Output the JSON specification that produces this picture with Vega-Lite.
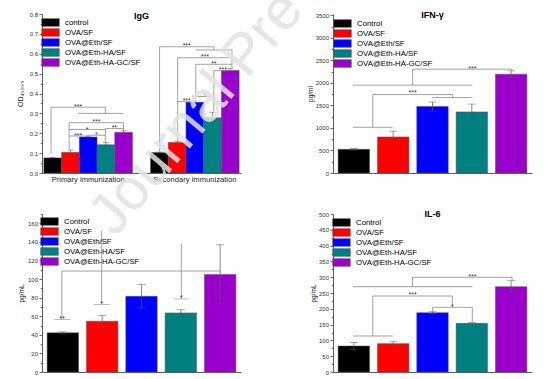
{
  "$schema": "https://vega.github.io/schema/vega-lite/v6.json",
  "autosize": {"type": "none"},
  "padding": {"left": 42, "top": 14, "right": 512, "bottom": 365},
  "background": "white",
  "datasets": {
    "igg": [
      {"group": "Primary immunization", "series": "control", "value": 0.076, "lo": 0.073, "hi": 0.079},
      {"group": "Primary immunization", "series": "OVA/SF", "value": 0.104, "lo": 0.092, "hi": 0.116},
      {"group": "Primary immunization", "series": "OVA@Eth/SF", "value": 0.181, "lo": 0.177, "hi": 0.185},
      {"group": "Primary immunization", "series": "OVA@Eth-HA/SF", "value": 0.142, "lo": 0.13, "hi": 0.154},
      {"group": "Primary immunization", "series": "OVA@Eth-HA-GC/SF", "value": 0.205, "lo": 0.195, "hi": 0.215},
      {"group": "Secondary immunization", "series": "control", "value": 0.103, "lo": 0.1, "hi": 0.106},
      {"group": "Secondary immunization", "series": "OVA/SF", "value": 0.154, "lo": 0.15, "hi": 0.158},
      {"group": "Secondary immunization", "series": "OVA@Eth/SF", "value": 0.356, "lo": 0.325, "hi": 0.387},
      {"group": "Secondary immunization", "series": "OVA@Eth-HA/SF", "value": 0.278, "lo": 0.25, "hi": 0.306},
      {"group": "Secondary immunization", "series": "OVA@Eth-HA-GC/SF", "value": 0.516, "lo": 0.505, "hi": 0.527}
    ],
    "iggSeg": [
      {"k": "P:C", "k2": "P:C", "y1": 0.095, "y2": 0.331},
      {"k": "P:C", "k2": "P:H", "y1": 0.331, "y2": 0.331},
      {"k": "P:H", "k2": "P:H", "y1": 0.331, "y2": 0.3},
      {"k": "P:O-E", "k2": "P:G", "y1": 0.3, "y2": 0.3},
      {"k": "P:O", "k2": "P:G", "y1": 0.253, "y2": 0.253},
      {"k": "P:O", "k2": "P:O", "y1": 0.253, "y2": 0.12},
      {"k": "P:G", "k2": "P:G", "y1": 0.253, "y2": 0.218},
      {"k": "P:O", "k2": "P:H", "y1": 0.219, "y2": 0.219},
      {"k": "P:O", "k2": "P:E", "y1": 0.186, "y2": 0.186},
      {"k": "P:E", "k2": "P:H", "y1": 0.19, "y2": 0.19},
      {"k": "P:H", "k2": "P:G", "y1": 0.224, "y2": 0.224},
      {"k": "P:H", "k2": "P:H", "y1": 0.224, "y2": 0.155},
      {"k": "S:C", "k2": "S:C", "y1": 0.11, "y2": 0.635},
      {"k": "S:C", "k2": "S:H", "y1": 0.635, "y2": 0.635},
      {"k": "S:H", "k2": "S:H", "y1": 0.635, "y2": 0.619},
      {"k": "S:E", "k2": "S:G", "y1": 0.619, "y2": 0.619},
      {"k": "S:O", "k2": "S:G", "y1": 0.58, "y2": 0.58},
      {"k": "S:O", "k2": "S:O", "y1": 0.58, "y2": 0.16},
      {"k": "S:G", "k2": "S:G", "y1": 0.619, "y2": 0.53},
      {"k": "S:E", "k2": "S:G", "y1": 0.547, "y2": 0.547},
      {"k": "S:E", "k2": "S:E", "y1": 0.547, "y2": 0.39},
      {"k": "S:H", "k2": "S:G", "y1": 0.515, "y2": 0.515},
      {"k": "S:H", "k2": "S:H", "y1": 0.515, "y2": 0.31},
      {"k": "S:O", "k2": "S:E", "y1": 0.36, "y2": 0.36},
      {"k": "S:E", "k2": "S:H", "y1": 0.385, "y2": 0.385}
    ],
    "iggTxt": [
      {"k": "P:O-E", "y": 0.342, "t": "***"},
      {"k": "P:E-H", "y": 0.266, "t": "***"},
      {"k": "P:E", "y": 0.228, "t": "*"},
      {"k": "P:O-E", "y": 0.196, "t": "***"},
      {"k": "P:E-H", "y": 0.2, "t": "*"},
      {"k": "P:H-G", "y": 0.234, "t": "**"},
      {"k": "S:O-E", "y": 0.647, "t": "***"},
      {"k": "S:E-H", "y": 0.594, "t": "***"},
      {"k": "S:H", "y": 0.56, "t": "**"},
      {"k": "S:H-G", "y": 0.53, "t": "***"},
      {"k": "S:O-E", "y": 0.37, "t": "***"},
      {"k": "S:E-H", "y": 0.398, "t": "*"}
    ],
    "ifn": [
      {"series": "Control", "value": 526, "lo": 511, "hi": 541},
      {"series": "OVA/SF", "value": 801, "lo": 671, "hi": 931},
      {"series": "OVA@Eth/SF", "value": 1476, "lo": 1376, "hi": 1576},
      {"series": "OVA@Eth-HA/SF", "value": 1357, "lo": 1180, "hi": 1530},
      {"series": "OVA@Eth-HA-GC/SF", "value": 2195, "lo": 2122, "hi": 2268}
    ],
    "ifnSeg": [
      {"k": "C", "k2": "O", "y1": 1015, "y2": 1015},
      {"k": "C-O", "k2": "C-O", "y1": 1015, "y2": 1742},
      {"k": "C-O", "k2": "E-H", "y1": 1742, "y2": 1742},
      {"k": "E-H", "k2": "E-H", "y1": 1742, "y2": 1675},
      {"k": "E", "k2": "H", "y1": 1675, "y2": 1675},
      {"k": "C", "k2": "H", "y1": 1950, "y2": 1950},
      {"k": "O-E", "k2": "O-E", "y1": 1950, "y2": 2305},
      {"k": "O-E", "k2": "G", "y1": 2305, "y2": 2305},
      {"k": "G", "k2": "G", "y1": 2305, "y2": 2265}
    ],
    "ifnTxt": [
      {"k": "O-E", "y": 1823, "t": "***"},
      {"k": "H", "y": 2357, "t": "***"}
    ],
    "il2": [
      {"series": "Control", "value": 42.1, "lo": 41, "hi": 43.2},
      {"series": "OVA/SF", "value": 54.6, "lo": 48.5, "hi": 60.7},
      {"series": "OVA@Eth/SF", "value": 81.4, "lo": 69, "hi": 94},
      {"series": "OVA@Eth-HA/SF", "value": 63.6, "lo": 60, "hi": 67},
      {"series": "OVA@Eth-HA-GC/SF", "value": 105, "lo": 73.6, "hi": 136.8}
    ],
    "il2Seg": [
      {"k": "C", "k2": "G", "y1": 108.6, "y2": 108.6},
      {"k": "C", "k2": "C", "y1": 108.6, "y2": 56.4},
      {"k": "O", "k2": "O", "y1": 152, "y2": 72.5},
      {"k": "H", "k2": "H", "y1": 138, "y2": 78.6}
    ],
    "il2Tick": [
      {"k": "C", "y": 56.4},
      {"k": "O", "y": 72.5},
      {"k": "H", "y": 78.6}
    ],
    "il2Txt": [
      {"k": "C", "y": 59, "t": "**"},
      {"k": "O", "y": 75.5, "t": "*"},
      {"k": "H", "y": 81.5, "t": "*"}
    ],
    "watermark": [
      {"k": "O", "y": 156, "t": "Journal Pre-proof"}
    ],
    "il6": [
      {"series": "Control", "value": 82.3, "lo": 70.8, "hi": 93.8},
      {"series": "OVA/SF", "value": 89.7, "lo": 83.7, "hi": 95.7},
      {"series": "OVA@Eth/SF", "value": 187.8, "lo": 184.8, "hi": 190.8},
      {"series": "OVA@Eth-HA/SF", "value": 154, "lo": 152, "hi": 156},
      {"series": "OVA@Eth-HA-GC/SF", "value": 270, "lo": 251, "hi": 289}
    ],
    "il6Seg": [
      {"k": "C", "k2": "O", "y1": 114, "y2": 114},
      {"k": "C-O", "k2": "C-O", "y1": 114, "y2": 240.5},
      {"k": "C-O", "k2": "E-H", "y1": 240.5, "y2": 240.5},
      {"k": "E-H", "k2": "E-H", "y1": 240.5, "y2": 204.6},
      {"k": "E", "k2": "H", "y1": 204.6, "y2": 204.6},
      {"k": "E", "k2": "E", "y1": 204.6, "y2": 192},
      {"k": "H", "k2": "H", "y1": 204.6, "y2": 158},
      {"k": "C", "k2": "H", "y1": 270, "y2": 270},
      {"k": "O-E", "k2": "O-E", "y1": 270, "y2": 299.6},
      {"k": "O-E", "k2": "G", "y1": 299.6, "y2": 299.6},
      {"k": "G", "k2": "G", "y1": 299.6, "y2": 291}
    ],
    "il6Txt": [
      {"k": "O-E", "y": 250, "t": "***"},
      {"k": "E-H", "y": 212, "t": "*"},
      {"k": "H", "y": 306, "t": "***"}
    ]
  },
  "columns": 2,
  "spacing": {"row": 41, "column": 92},
  "bounds": "flush",
  "resolve": {
    "scale": {"color": "independent", "x": "independent", "y": "independent"},
    "legend": {"color": "independent"}
  },
  "concat": [
    {
      "width": 199, "height": 159,
      "title": "IgG",
      "resolve": {"scale": {"x": "independent"}, "axis": {"y": "independent"}},
      "layer": [
        {
          "data": {"name": "igg"},
          "layer": [
            {
              "mark": {"type": "bar", "stroke": "#555", "strokeWidth": 0.5},
              "encoding": {
                "x": {"field": "group", "type": "nominal", "sort": null, "title": null,
                  "scale": {"domain": ["Primary immunization", "Secondary immunization"], "paddingInner": 0.169, "paddingOuter": 0.0175},
                  "axis": {"ticks": false, "labelAngle": 0, "labelFontSize": 7.6, "labelColor": "#222", "labelPadding": 2}},
                "xOffset": {"field": "series", "type": "nominal", "sort": null,
                  "scale": {"domain": ["control", "OVA/SF", "OVA@Eth/SF", "OVA@Eth-HA/SF", "OVA@Eth-HA-GC/SF"], "paddingInner": 0, "paddingOuter": 0}},
                "y": {"field": "value", "type": "quantitative", "title": "OD₄₅₀ₙₘ",
                  "scale": {"domain": [0, 0.8], "nice": false},
                  "axis": {"values": [0, 0.1, 0.2, 0.3, 0.4, 0.5, 0.6, 0.7, 0.8], "tickCount": 100, "format": ".1f", "orient": "left",
                    "titlePadding": 6, "titleFontSize": 7, "labelOverlap": false}},
                "color": {"field": "series", "type": "nominal", "sort": null,
                  "scale": {"domain": ["control", "OVA/SF", "OVA@Eth/SF", "OVA@Eth-HA/SF", "OVA@Eth-HA-GC/SF"], "range": ["#000000", "#ff0000", "#0000ff", "#008080", "#9900cc"]},
                  "legend": {"offset": 4}}
              }
            },
            {
              "mark": {"type": "rule", "color": "#555", "strokeWidth": 0.7},
              "encoding": {
                "x": {"field": "group", "type": "nominal", "sort": null},
                "xOffset": {"field": "series", "type": "nominal", "sort": null},
                "y": {"field": "lo", "type": "quantitative", "title": "OD₄₅₀ₙₘ"},
                "y2": {"field": "hi"}
              }
            },
            {
              "mark": {"type": "tick", "color": "#555", "size": 6, "thickness": 0.7},
              "encoding": {
                "x": {"field": "group", "type": "nominal", "sort": null},
                "xOffset": {"field": "series", "type": "nominal", "sort": null},
                "y": {"field": "hi", "type": "quantitative", "title": "OD₄₅₀ₙₘ"}
              }
            }
          ]
        },
        {
          "layer": [
            {
              "data": {"name": "iggSeg"},
              "mark": {"type": "rule", "color": "#7a7a7a", "strokeWidth": 0.7},
              "encoding": {
                "x": {"field": "k", "type": "nominal", "axis": null,
                  "scale": {"type": "point", "padding": 1.22, "domain": ["P:C", "P:C-O", "P:O", "P:O-E", "P:E", "P:E-H", "P:H", "P:H-G", "P:G", "g1", "g2", "g3", "S:C", "S:C-O", "S:O", "S:O-E", "S:E", "S:E-H", "S:H", "S:H-G", "S:G"]}},
                "x2": {"field": "k2"},
                "y": {"field": "y1", "type": "quantitative", "title": null,
                  "axis": {"orient": "left", "values": [0.05, 0.15, 0.25, 0.35, 0.45, 0.55, 0.65, 0.75], "tickCount": 100, "labels": false, "domain": false, "tickSize": 1.8}},
                "y2": {"field": "y2"}
              }
            },
            {
              "data": {"name": "iggTxt"},
              "mark": {"type": "text", "fontSize": 7, "color": "#333", "baseline": "alphabetic", "dy": 4},
              "encoding": {
                "x": {"field": "k", "type": "nominal"},
                "y": {"field": "y", "type": "quantitative", "title": null},
                "text": {"field": "t"}
              }
            }
          ]
        }
      ]
    },
    {
      "width": 199, "height": 159,
      "title": {"text": "IFN-γ", "offset": -8},
      "resolve": {"scale": {"x": "independent"}, "axis": {"y": "independent"}},
      "layer": [
        {
          "data": {"name": "ifn"},
          "layer": [
            {
              "mark": {"type": "bar", "stroke": "#555", "strokeWidth": 0.5},
              "encoding": {
                "x": {"field": "series", "type": "nominal", "sort": null, "title": null,
                  "scale": {"domain": ["Control", "OVA/SF", "OVA@Eth/SF", "OVA@Eth-HA/SF", "OVA@Eth-HA-GC/SF"], "paddingInner": 0.2, "paddingOuter": 0.13},
                  "axis": {"labels": false, "ticks": false}},
                "y": {"field": "value", "type": "quantitative", "title": "pg/ml",
                  "scale": {"domain": [0, 3530], "nice": false},
                  "axis": {"values": [0, 500, 1000, 1500, 2000, 2500, 3000, 3500], "tickCount": 100, "format": "d", "orient": "left",
                    "titlePadding": 2, "labelOverlap": false}},
                "color": {"field": "series", "type": "nominal", "sort": null,
                  "scale": {"domain": ["Control", "OVA/SF", "OVA@Eth/SF", "OVA@Eth-HA/SF", "OVA@Eth-HA-GC/SF"], "range": ["#000000", "#ff0000", "#0000ff", "#008080", "#9900cc"]},
                  "legend": {"offset": 5}}
              }
            },
            {
              "mark": {"type": "rule", "color": "#555", "strokeWidth": 0.7},
              "encoding": {
                "x": {"field": "series", "type": "nominal", "sort": null},
                "y": {"field": "lo", "type": "quantitative", "title": "pg/ml"},
                "y2": {"field": "hi"}
              }
            },
            {
              "mark": {"type": "tick", "color": "#555", "size": 8, "thickness": 0.7},
              "encoding": {
                "x": {"field": "series", "type": "nominal", "sort": null},
                "y": {"field": "hi", "type": "quantitative", "title": "pg/ml"}
              }
            },
            {
              "mark": {"type": "tick", "color": "#555", "size": 8, "thickness": 0.7},
              "encoding": {
                "x": {"field": "series", "type": "nominal", "sort": null},
                "y": {"field": "lo", "type": "quantitative", "title": "pg/ml"}
              }
            }
          ]
        },
        {
          "layer": [
            {
              "data": {"name": "ifnSeg"},
              "mark": {"type": "rule", "color": "#7a7a7a", "strokeWidth": 0.7},
              "encoding": {
                "x": {"field": "k", "type": "nominal", "axis": null,
                  "scale": {"type": "point", "padding": 1.06, "domain": ["C", "C-O", "O", "O-E", "E", "E-H", "H", "H-G", "G"]}},
                "x2": {"field": "k2"},
                "y": {"field": "y1", "type": "quantitative", "title": null,
                  "axis": {"orient": "left", "values": [250, 750, 1250, 1750, 2250, 2750, 3250], "tickCount": 100, "labels": false, "domain": false, "tickSize": 1.8}},
                "y2": {"field": "y2"}
              }
            },
            {
              "data": {"name": "ifnTxt"},
              "mark": {"type": "text", "fontSize": 7, "color": "#333", "baseline": "alphabetic", "dy": 4},
              "encoding": {
                "x": {"field": "k", "type": "nominal"},
                "y": {"field": "y", "type": "quantitative", "title": null},
                "text": {"field": "t"}
              }
            }
          ]
        }
      ]
    },
    {
      "width": 199, "height": 158,
      "title": {"text": "IL-2", "offset": -9},
      "resolve": {"scale": {"x": "independent"}, "axis": {"y": "independent"}},
      "layer": [
        {
          "data": {"name": "il2"},
          "layer": [
            {
              "mark": {"type": "bar", "stroke": "#555", "strokeWidth": 0.5},
              "encoding": {
                "x": {"field": "series", "type": "nominal", "sort": null, "title": null,
                  "scale": {"domain": ["Control", "OVA/SF", "OVA@Eth/SF", "OVA@Eth-HA/SF", "OVA@Eth-HA-GC/SF"], "paddingInner": 0.2, "paddingOuter": 0.13},
                  "axis": {"labels": false, "ticks": false}},
                "y": {"field": "value", "type": "quantitative", "title": "pg/mL",
                  "scale": {"domain": [0, 170], "nice": false},
                  "axis": {"values": [0, 20, 40, 60, 80, 100, 120, 140, 160], "tickCount": 100, "format": "d", "orient": "left",
                    "titlePadding": 3, "labelOverlap": false}},
                "color": {"field": "series", "type": "nominal", "sort": null,
                  "scale": {"domain": ["Control", "OVA/SF", "OVA@Eth/SF", "OVA@Eth-HA/SF", "OVA@Eth-HA-GC/SF"], "range": ["#000000", "#ff0000", "#0000ff", "#008080", "#9900cc"]},
                  "legend": {"offset": 3}}
              }
            },
            {
              "mark": {"type": "rule", "color": "#555", "strokeWidth": 0.7},
              "encoding": {
                "x": {"field": "series", "type": "nominal", "sort": null},
                "y": {"field": "lo", "type": "quantitative", "title": "pg/mL"},
                "y2": {"field": "hi"}
              }
            },
            {
              "mark": {"type": "tick", "color": "#555", "size": 8, "thickness": 0.7},
              "encoding": {
                "x": {"field": "series", "type": "nominal", "sort": null},
                "y": {"field": "hi", "type": "quantitative", "title": "pg/mL"}
              }
            },
            {
              "mark": {"type": "tick", "color": "#555", "size": 8, "thickness": 0.7},
              "encoding": {
                "x": {"field": "series", "type": "nominal", "sort": null},
                "y": {"field": "lo", "type": "quantitative", "title": "pg/mL"}
              }
            }
          ]
        },
        {
          "layer": [
            {
              "data": {"name": "il2Seg"},
              "mark": {"type": "rule", "color": "#7a7a7a", "strokeWidth": 0.7},
              "encoding": {
                "x": {"field": "k", "type": "nominal", "axis": null,
                  "scale": {"type": "point", "padding": 1.06, "domain": ["C", "C-O", "O", "O-E", "E", "E-H", "H", "H-G", "G"]}},
                "x2": {"field": "k2"},
                "y": {"field": "y1", "type": "quantitative", "title": null,
                  "axis": {"orient": "left", "values": [10, 30, 50, 70, 90, 110, 130, 150, 170], "tickCount": 100, "labels": false, "domain": false, "tickSize": 1.8}},
                "y2": {"field": "y2"}
              }
            },
            {
              "data": {"name": "il2Tick"},
              "mark": {"type": "tick", "color": "#7a7a7a", "size": 16, "thickness": 0.7},
              "encoding": {
                "x": {"field": "k", "type": "nominal"},
                "y": {"field": "y", "type": "quantitative", "title": null}
              }
            },
            {
              "data": {"name": "il2Txt"},
              "mark": {"type": "text", "fontSize": 7, "color": "#333", "baseline": "alphabetic", "dy": 4},
              "encoding": {
                "x": {"field": "k", "type": "nominal"},
                "y": {"field": "y", "type": "quantitative", "title": null},
                "text": {"field": "t"}
              }
            },
            {
              "data": {"name": "watermark"},
              "mark": {"type": "text", "fontSize": 58, "color": "#e2e2e2", "opacity": 0.85, "angle": -50, "align": "left", "baseline": "middle"},
              "encoding": {
                "x": {"field": "k", "type": "nominal"},
                "y": {"field": "y", "type": "quantitative", "title": null},
                "text": {"field": "t"}
              }
            }
          ]
        }
      ]
    },
    {
      "width": 199, "height": 158,
      "title": {"text": "IL-6", "offset": -8},
      "resolve": {"scale": {"x": "independent"}, "axis": {"y": "independent"}},
      "layer": [
        {
          "data": {"name": "il6"},
          "layer": [
            {
              "mark": {"type": "bar", "stroke": "#555", "strokeWidth": 0.5},
              "encoding": {
                "x": {"field": "series", "type": "nominal", "sort": null, "title": null,
                  "scale": {"domain": ["Control", "OVA/SF", "OVA@Eth/SF", "OVA@Eth-HA/SF", "OVA@Eth-HA-GC/SF"], "paddingInner": 0.2, "paddingOuter": 0.13},
                  "axis": {"labels": false, "ticks": false}},
                "y": {"field": "value", "type": "quantitative", "title": "pg/mL",
                  "scale": {"domain": [0, 500], "nice": false},
                  "axis": {"values": [0, 50, 100, 150, 200, 250, 300, 350, 400, 450, 500], "tickCount": 100, "format": "d", "orient": "left",
                    "titlePadding": 2, "labelOverlap": false}},
                "color": {"field": "series", "type": "nominal", "sort": null,
                  "scale": {"domain": ["Control", "OVA/SF", "OVA@Eth/SF", "OVA@Eth-HA/SF", "OVA@Eth-HA-GC/SF"], "range": ["#000000", "#ff0000", "#0000ff", "#008080", "#9900cc"]},
                  "legend": {"offset": 4}}
              }
            },
            {
              "mark": {"type": "rule", "color": "#555", "strokeWidth": 0.7},
              "encoding": {
                "x": {"field": "series", "type": "nominal", "sort": null},
                "y": {"field": "lo", "type": "quantitative", "title": "pg/mL"},
                "y2": {"field": "hi"}
              }
            },
            {
              "mark": {"type": "tick", "color": "#555", "size": 8, "thickness": 0.7},
              "encoding": {
                "x": {"field": "series", "type": "nominal", "sort": null},
                "y": {"field": "hi", "type": "quantitative", "title": "pg/mL"}
              }
            },
            {
              "mark": {"type": "tick", "color": "#555", "size": 8, "thickness": 0.7},
              "encoding": {
                "x": {"field": "series", "type": "nominal", "sort": null},
                "y": {"field": "lo", "type": "quantitative", "title": "pg/mL"}
              }
            }
          ]
        },
        {
          "layer": [
            {
              "data": {"name": "il6Seg"},
              "mark": {"type": "rule", "color": "#7a7a7a", "strokeWidth": 0.7},
              "encoding": {
                "x": {"field": "k", "type": "nominal", "axis": null,
                  "scale": {"type": "point", "padding": 1.06, "domain": ["C", "C-O", "O", "O-E", "E", "E-H", "H", "H-G", "G"]}},
                "x2": {"field": "k2"},
                "y": {"field": "y1", "type": "quantitative", "title": null,
                  "axis": {"orient": "left", "values": [25, 75, 125, 175, 225, 275, 325, 375, 425, 475], "tickCount": 100, "labels": false, "domain": false, "tickSize": 1.8}},
                "y2": {"field": "y2"}
              }
            },
            {
              "data": {"name": "il6Txt"},
              "mark": {"type": "text", "fontSize": 7, "color": "#333", "baseline": "alphabetic", "dy": 4},
              "encoding": {
                "x": {"field": "k", "type": "nominal"},
                "y": {"field": "y", "type": "quantitative", "title": null},
                "text": {"field": "t"}
              }
            }
          ]
        }
      ]
    }
  ],
  "config": {
    "font": "Liberation Sans",
    "view": {"stroke": null},
    "axis": {
      "grid": false,
      "labelOverlap": false,
      "domainColor": "#333", "domainWidth": 0.8,
      "tickColor": "#333", "tickWidth": 0.7, "tickSize": 3,
      "labelColor": "#333", "labelFontSize": 6, "labelPadding": 1.5,
      "titleColor": "#222", "titleFontSize": 6.5, "titleFontWeight": "normal"
    },
    "legend": {
      "orient": "top-left",
      "title": null,
      "padding": 0,
      "rowPadding": -3,
      "labelFontSize": 7.8,
      "labelColor": "#000",
      "labelOffset": 10,
      "symbolType": "M-2.2,-0.95H2.2V0.95H-2.2Z",
      "symbolSize": 64,
      "symbolStrokeColor": "#555",
      "symbolStrokeWidth": 0.6,
      "symbolOpacity": 1
    },
    "title": {"fontSize": 9, "fontWeight": "bold", "anchor": "middle", "offset": -10, "color": "#000"}
  }
}
